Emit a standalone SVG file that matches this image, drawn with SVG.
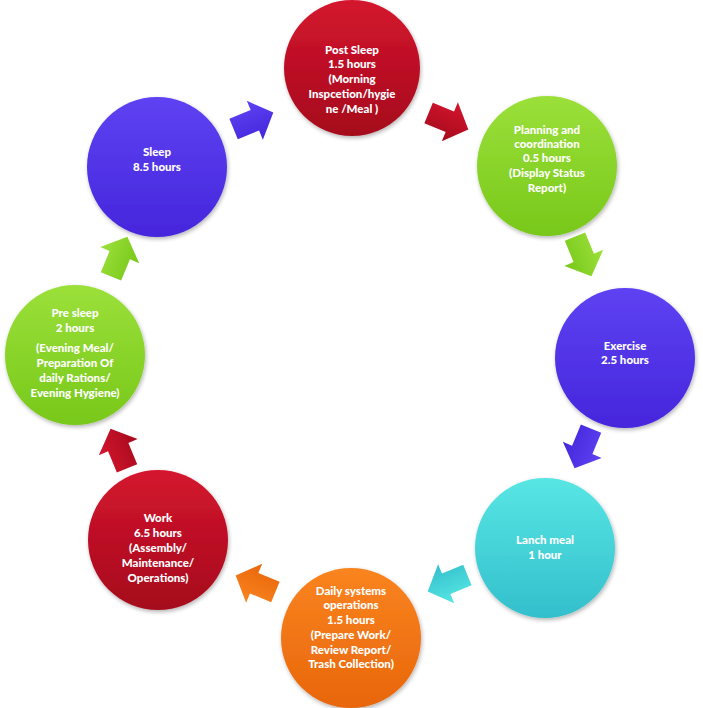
<svg xmlns="http://www.w3.org/2000/svg" width="703" height="708" viewBox="0 0 703 708">
<defs>
<linearGradient id="gRed" x1="0" y1="0" x2="0" y2="1"><stop offset="0" stop-color="#D4152E"/><stop offset="1" stop-color="#A50A1C"/></linearGradient>
<linearGradient id="gGreen" x1="0" y1="0" x2="0" y2="1"><stop offset="0" stop-color="#9BE03A"/><stop offset="1" stop-color="#78C81A"/></linearGradient>
<linearGradient id="gPurple" x1="0" y1="0" x2="0" y2="1"><stop offset="0" stop-color="#5E42F2"/><stop offset="1" stop-color="#4526DC"/></linearGradient>
<linearGradient id="gTeal" x1="0" y1="0" x2="0" y2="1"><stop offset="0" stop-color="#58E6E4"/><stop offset="1" stop-color="#33BFCC"/></linearGradient>
<linearGradient id="gOrange" x1="0" y1="0" x2="0" y2="1"><stop offset="0" stop-color="#FA8420"/><stop offset="1" stop-color="#E8660A"/></linearGradient>
<filter id="sh" x="-20%" y="-20%" width="140%" height="140%"><feGaussianBlur in="SourceAlpha" stdDeviation="2"/><feOffset dx="1" dy="2"/><feComponentTransfer><feFuncA type="linear" slope="0.3"/></feComponentTransfer><feMerge><feMergeNode/><feMergeNode in="SourceGraphic"/></feMerge></filter>
<path id="arr" d="M-21,-11 L2,-11 L2,-21 L22,0 L2,21 L2,11 L-21,11 Z"/>
</defs>
<style>
text{font-family:Lato,"Open Sans","Liberation Sans",sans-serif;font-weight:900;font-size:11.5px;fill:#FFFFFF;text-anchor:middle}
circle{filter:url(#sh)}
.red{fill:url(#gRed)} .green{fill:url(#gGreen)} .purple{fill:url(#gPurple)} .teal{fill:url(#gTeal)} .orange{fill:url(#gOrange)}
</style>
<rect width="703" height="708" fill="#FFFFFF"/>
<g id="connectors">
<use href="#arr" class="purple" transform="translate(253,121) rotate(-22.5)"/>
<use href="#arr" class="red" transform="translate(448,121) rotate(22.5)"/>
<use href="#arr" class="green" transform="translate(583,256) rotate(67.5)"/>
<use href="#arr" class="purple" transform="translate(583,448) rotate(112.5)"/>
<use href="#arr" class="teal" transform="translate(448,583) rotate(157.5)"/>
<use href="#arr" class="orange" transform="translate(256,584) rotate(202.5)"/>
<use href="#arr" class="red" transform="translate(119,449) rotate(247.5)"/>
<use href="#arr" class="green" transform="translate(119,257) rotate(292.5)"/>
</g>
<g id="post-sleep">
<circle cx="352" cy="68" r="68" class="red"/>
<text x="352" y="54">Post Sleep</text>
<text x="352" y="68">1.5 hours</text>
<text x="352" y="83">(Morning</text>
<text x="352" y="98">Inspcetion/hygie</text>
<text x="352" y="113">ne /Meal )</text>
</g>
<g id="planning">
<circle cx="547" cy="166" r="70" class="green"/>
<text x="547" y="134">Planning and</text>
<text x="547" y="148">coordination</text>
<text x="547" y="162">0.5 hours</text>
<text x="547" y="177">(Display Status</text>
<text x="547" y="192">Report)</text>
</g>
<g id="exercise">
<circle cx="625" cy="358" r="70" class="purple"/>
<text x="625" y="350">Exercise</text>
<text x="625" y="364">2.5 hours</text>
</g>
<g id="lunch">
<circle cx="545" cy="548" r="70" class="teal"/>
<text x="545" y="544">Lanch meal</text>
<text x="545" y="559">1 hour</text>
</g>
<g id="daily">
<circle cx="351" cy="638" r="70" class="orange"/>
<text x="351" y="595">Daily systems</text>
<text x="351" y="609">operations</text>
<text x="351" y="624">1.5 hours</text>
<text x="351" y="639">(Prepare Work/</text>
<text x="351" y="654">Review Report/</text>
<text x="351" y="668">Trash Collection)</text>
</g>
<g id="work">
<circle cx="158" cy="540" r="70" class="red"/>
<text x="158" y="522">Work</text>
<text x="158" y="537">6.5 hours</text>
<text x="158" y="552">(Assembly/</text>
<text x="158" y="567">Maintenance/</text>
<text x="158" y="582">Operations)</text>
</g>
<g id="pre-sleep">
<circle cx="75" cy="355" r="70" class="green"/>
<text x="75" y="317">Pre sleep</text>
<text x="75" y="332">2 hours</text>
<text x="75" y="352">(Evening Meal/</text>
<text x="75" y="367">Preparation Of</text>
<text x="75" y="382">daily Rations/</text>
<text x="75" y="397">Evening Hygiene)</text>
</g>
<g id="sleep">
<circle cx="157" cy="167" r="70" class="purple"/>
<text x="157" y="156">Sleep</text>
<text x="157" y="171">8.5 hours</text>
</g>
</svg>
